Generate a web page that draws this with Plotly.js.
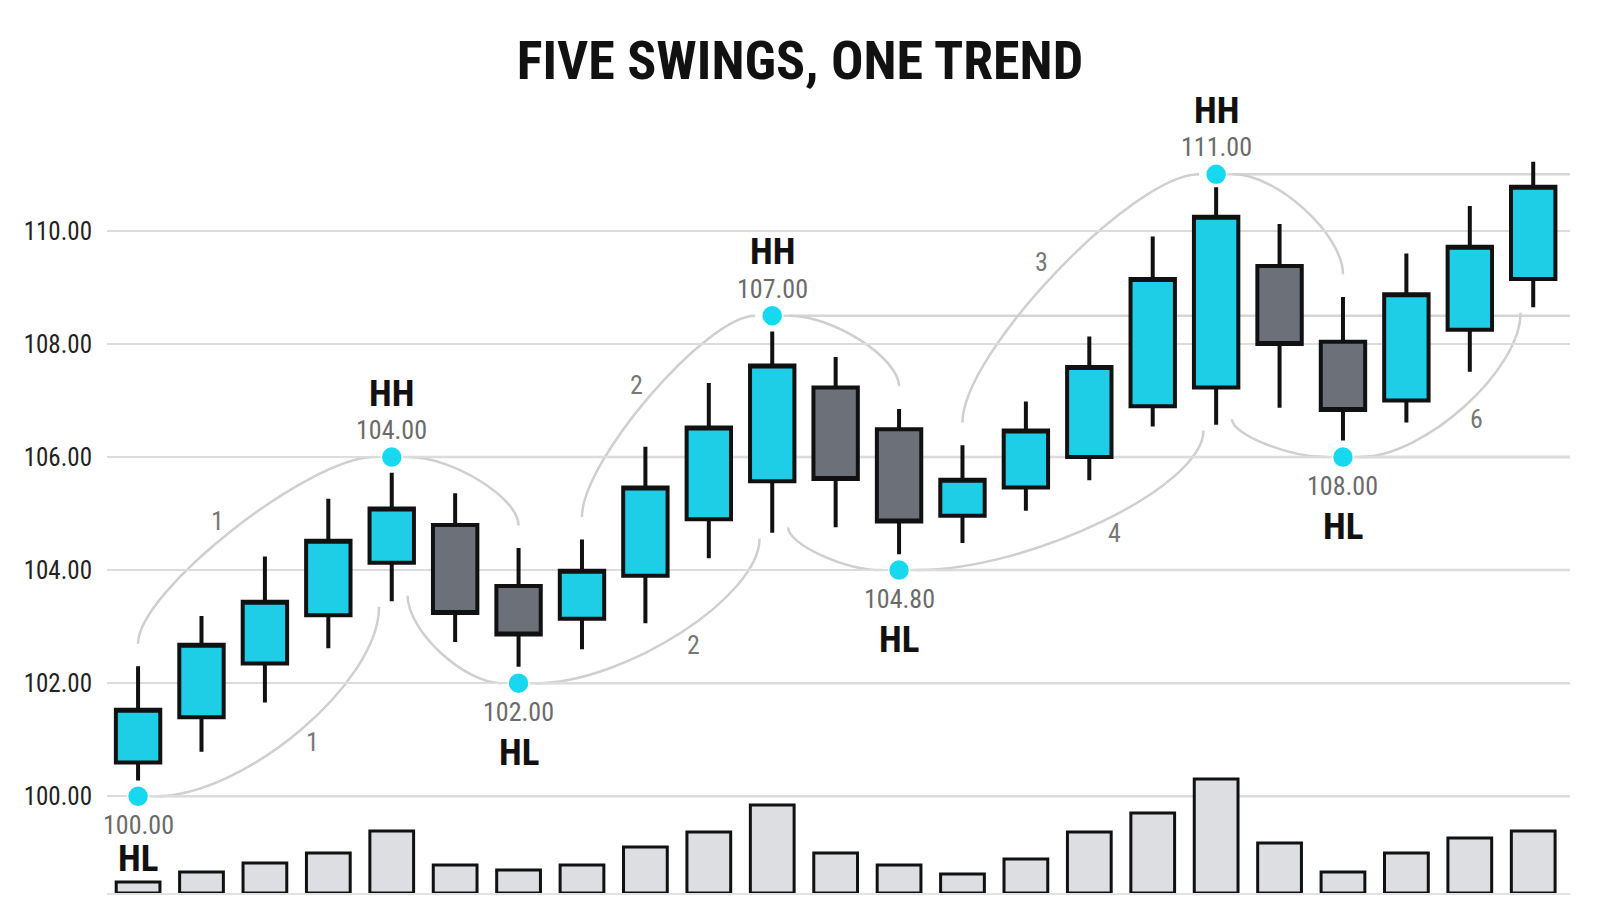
<!DOCTYPE html>
<html>
<head>
<meta charset="utf-8">
<script src="https://cdn.plot.ly/plotly-3.0.1.min.js"></script>
<style>
  html, body { margin: 0; padding: 0; background: #fff; }
  #chart { width: 1600px; height: 914px; }
</style>
</head>
<body>
<div id="chart"></div>
<script>
// candles (x = bar index)
const candleIdx = [0, 1, 2, 3, 4, 5, 6, 7, 8, 9, 10, 11, 12, 13, 14, 15, 16, 17, 18, 19, 20, 21, 22];
const open = [100.6, 101.4, 102.35, 103.2, 104.13, 104.8, 103.72, 103.14, 103.9, 104.9, 105.57, 107.23, 106.49, 104.96, 105.46, 106.0, 106.9, 107.23, 109.38, 108.04, 107.0, 108.25, 109.15];
const high = [102.3, 103.19, 104.24, 105.26, 105.72, 105.36, 104.39, 104.54, 106.18, 107.31, 108.22, 107.77, 106.85, 106.21, 106.98, 108.13, 109.9, 110.77, 110.12, 108.83, 109.6, 110.44, 111.22];
const low = [100.28, 100.79, 101.66, 102.62, 103.45, 102.73, 102.29, 102.6, 103.06, 104.21, 104.66, 104.76, 104.28, 104.48, 105.05, 105.59, 106.54, 106.57, 106.87, 106.29, 106.61, 107.51, 108.65];
const close = [101.53, 102.68, 103.44, 104.52, 105.09, 103.24, 102.86, 103.99, 105.46, 106.52, 107.62, 105.61, 104.86, 105.6, 106.47, 107.59, 109.15, 110.25, 108.0, 106.83, 108.88, 109.72, 110.78];
const volume = [110, 210, 300, 400, 620, 280, 230, 280, 460, 610, 880, 400, 280, 190, 340, 610, 800, 1140, 500, 210, 400, 550, 620];

// swing points
const swingIdx = [0, 4, 6, 10, 12, 17, 19];
const swingY = [100, 106, 102, 108.5, 104, 111, 106];
const swingPrice = ["100.00", "104.00", "102.00", "107.00", "104.80", "111.00", "108.00"];
const swingType = ["HL", "HH", "HL", "HH", "HL", "HH", "HL"];

// leg arcs: candle where each upper arc starts, and the leg numbers
const upperArcFrom = [0, 7, 13];
const upperLegText = ["1", "2", "3"];
const lowerLegText = ["1", "2", "4", "6"];

const tickVals = [100, 102, 104, 106, 108, 110];
const tickText = ["100.00", "102.00", "104.00", "106.00", "108.00", "110.00"];

const cyan = "#1ecde6",
  slate = "#6b7079",
  dot = "#16d9f0",
  grid = "#dcdcdc",
  arcCol = "#cfcfcf";
const narrow = "'Liberation Sans Narrow', 'Arial Narrow', 'Roboto Condensed', 'DejaVu Sans Condensed', sans-serif";
const xRange = [-0.49, 22.58];

const gap = 0.27;
function arc(p0, p1, corner, k) {
  const c1 = [p0[0] + k * (corner[0] - p0[0]), p0[1] + k * (corner[1] - p0[1])];
  const c2 = [p1[0] + k * (corner[0] - p1[0]), p1[1] + k * (corner[1] - p1[1])];
  const mid = [(p0[0] + 3 * c1[0] + 3 * c2[0] + p1[0]) / 8, (p0[1] + 3 * c1[1] + 3 * c2[1] + p1[1]) / 8];
  return {
    path: `M${p0[0]},${p0[1]} C${c1[0]},${c1[1]} ${c2[0]},${c2[1]} ${p1[0]},${p1[1]}`,
    mid,
  };
}

const shapes = [];
const annotations = [];
const arcShape = (a) => ({
  type: "path", xref: "x", yref: "y", path: a.path, layer: "below",
  line: { color: arcCol, width: 2.5 },
});
const legNote = (a, text, dx, dy) => ({
  x: a.mid[0], y: a.mid[1], xref: "x", yref: "y", text, showarrow: false,
  xshift: dx, yshift: dy, font: { family: narrow, size: 26, color: "#777" },
});

// level lines from each swing to the right edge
swingIdx.forEach((x, i) => {
  shapes.push({
    type: "line", xref: "x", yref: "y", x0: x, x1: xRange[1], y0: swingY[i], y1: swingY[i],
    layer: "below", line: { color: "#d6d6d6", width: 2.5 },
  });
});

let up = 0;
swingIdx.forEach((xa, i) => {
  const hasNext = i + 1 < swingIdx.length;
  if (swingType[i] === "HL") {
    const xb = hasNext ? swingIdx[i + 1] : candleIdx[candleIdx.length - 1];
    const lo = arc([xa + gap, swingY[i]], [xb - 0.2, low[xb] - 0.1], [xb - 0.2, swingY[i]], 0.4);
    shapes.push(arcShape(lo));
    annotations.push(legNote(lo, lowerLegText[up], 12, -12));
    if (hasNext) {
      const s = upperArcFrom[up];
      const hi = arc([s, high[s] + 0.4], [xb - gap, swingY[i + 1]], [s, swingY[i + 1]], 0.28);
      shapes.push(arcShape(hi));
      annotations.push(legNote(hi, upperLegText[up], -14, 10));
    }
    up++;
  } else if (hasNext) {
    const xc = swingIdx[i + 1];
    shapes.push(arcShape(arc([xa + gap, swingY[i]], [xc, high[xc] + 0.4], [xc, swingY[i]], 0.4)));
    shapes.push(arcShape(arc([xa + 0.25, low[xa] + 0.1], [xc - gap, swingY[i + 1]], [xa + 0.25, swingY[i + 1]], 0.4)));
  }
});

// swing labels
swingIdx.forEach((x, i) => {
  const isHigh = swingType[i] === "HH";
  annotations.push({
    x, y: swingY[i], xref: "x", yref: "y", text: swingPrice[i], showarrow: false,
    yshift: isHigh ? 27 : -29, font: { family: narrow, size: 26, color: "#6a6a6a" },
  });
  annotations.push({
    x, y: swingY[i], xref: "x", yref: "y", text: swingType[i], showarrow: false,
    yshift: isHigh ? 64 : (i === 0 ? -62 : -69), font: { family: narrow, size: 37, color: "#111", weight: "bold" },
  });
});

const data = [
  {
    type: "bar", x: candleIdx, y: volume, yaxis: "y2", width: 0.69,
    marker: { color: "#dddee2", line: { color: "#111", width: 3 } }, hoverinfo: "skip",
  },
  {
    type: "candlestick", x: candleIdx, open, high, low, close, whiskerwidth: 0,
    increasing: { fillcolor: cyan, line: { color: "#111", width: 4 } },
    decreasing: { fillcolor: slate, line: { color: "#111", width: 4 } },
    hoverinfo: "skip",
  },
  {
    type: "scatter", mode: "markers", x: swingIdx, y: swingY,
    marker: { size: 21, color: dot, line: { color: "#fff", width: 1.5 } }, hoverinfo: "skip",
  },
];

const layout = {
  width: 1600,
  height: 914,
  margin: { l: 107, r: 30, t: 120, b: 21 },
  paper_bgcolor: "#fff",
  plot_bgcolor: "#fff",
  showlegend: false,
  boxgap: 0.3,
  boxgroupgap: 0,
  title: {
    text: "FIVE SWINGS, ONE TREND",
    x: 0.5, xanchor: "center", y: 1 - 60 / 914, yanchor: "middle", yref: "container",
    font: { family: narrow, size: 54, color: "#111", weight: "bold" },
  },
  xaxis: {
    range: xRange, showgrid: false, zeroline: false, showticklabels: false,
    showline: true, linecolor: "#e2e2e2", linewidth: 2, rangeslider: { visible: false },
  },
  yaxis: {
    range: [98.29, 111.96], tickvals: tickVals, ticktext: tickText, showgrid: true,
    gridcolor: grid, gridwidth: 2, zeroline: false, ticks: "", ticklabelstandoff: 14,
    tickfont: { family: narrow, size: 25, color: "#222" },
  },
  yaxis2: { overlaying: "y", range: [0, 7730], visible: false },
  shapes,
  annotations,
};

Plotly.newPlot("chart", data, layout, { displayModeBar: false, staticPlot: true });
</script>
</body>
</html>
